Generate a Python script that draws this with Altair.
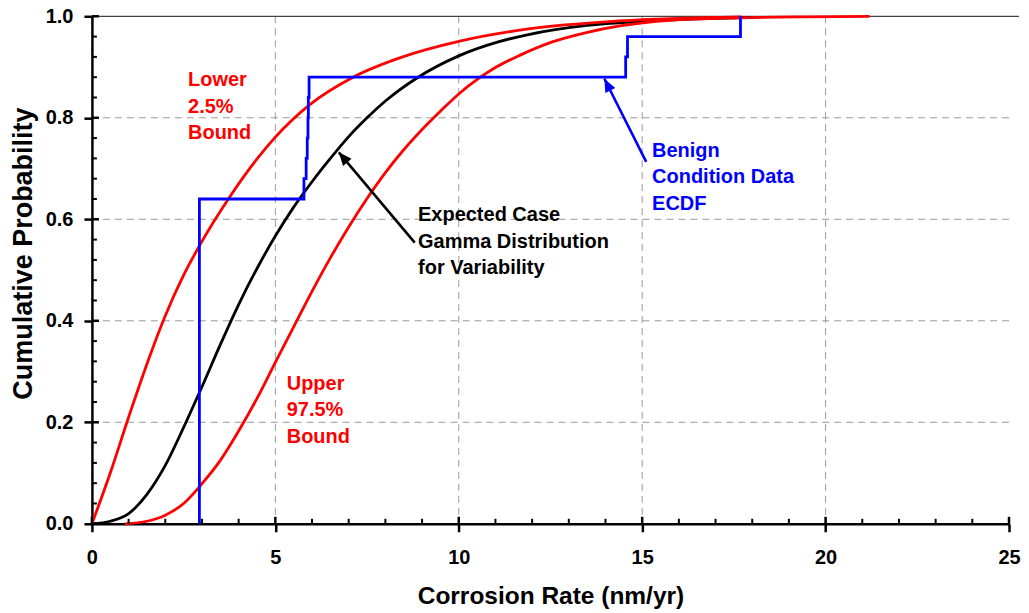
import math
import altair as alt
import pandas as pd

# ---------------- data ----------------
# Expected case gamma distribution (black)
exp_x = [0, 0.5, 1.0, 1.5, 2.0, 2.5, 3.0, 3.5, 4.0, 4.5, 5.0, 5.5, 6.0, 6.5, 7.0, 7.5, 8.0, 8.85, 10.0, 11.1, 11.9, 13.5, 15.0, 16.5, 18.0]
exp_y = [0, 0.005, 0.02, 0.058, 0.115, 0.19, 0.27, 0.353, 0.432, 0.503, 0.567, 0.624, 0.674, 0.72, 0.763, 0.80, 0.833, 0.878, 0.922, 0.950, 0.964, 0.982, 0.990, 0.995, 0.998]

# Lower 2.5% bound (red, left)
low_x = [0, 0.5, 1.0, 1.5, 2.0, 2.5, 2.94, 3.71, 4.49, 5.0, 5.94, 7.12, 8.39, 10.03, 11.9, 14.4, 17.7]
low_y = [0, 0.10, 0.21, 0.315, 0.41, 0.49, 0.549, 0.639, 0.718, 0.762, 0.826, 0.88, 0.918, 0.951, 0.975, 0.991, 0.999]

# Upper 97.5% bound (red, right)
up_x = [0.9, 1.5, 2.0, 2.5, 3.0, 3.5, 4.0, 4.5, 5.0, 5.5, 6.0, 6.5, 7.0, 7.5, 8.0, 8.5, 9.0, 9.5, 10.0, 10.57, 11.0, 11.66, 12.57, 13.48, 14.39, 15.75, 17.66, 19.5, 21.2]
up_y = [0, 0.005, 0.017, 0.040, 0.079, 0.125, 0.183, 0.247, 0.318, 0.388, 0.458, 0.524, 0.585, 0.641, 0.692, 0.737, 0.777, 0.813, 0.847, 0.879, 0.899, 0.923, 0.950, 0.968, 0.981, 0.992, 0.997, 0.999, 1.0]

# Benign condition data (25 observations) -> ECDF
obs = [2.93] * 16 + [5.78, 5.84, 5.87, 5.89, 5.90, 5.92, 14.55, 14.60, 17.68]

# Axis ticks
x_major = [0, 5, 10, 15, 20, 25]
x_minor = [1, 2, 3, 4, 6, 7, 8, 9, 11, 12, 13, 14, 16, 17, 18, 19, 21, 22, 23, 24]
y_major = [0.0, 0.2, 0.4, 0.6, 0.8, 1.0]
y_minor = [0.04, 0.08, 0.12, 0.16, 0.24, 0.28, 0.32, 0.36, 0.44, 0.48, 0.52, 0.56,
           0.64, 0.68, 0.72, 0.76, 0.84, 0.88, 0.92, 0.96]
x_grid = [5, 10, 15, 20]
y_grid = [0.2, 0.4, 0.6, 0.8]

# Annotations
ann_text = [["Lower", "2.5%", "Bound"],
            ["Upper", "97.5%", "Bound"],
            ["Expected Case", "Gamma Distribution", "for Variability"],
            ["Benign", "Condition Data", "ECDF"]]
ann_x = [2.62, 5.31, 8.89, 15.27]
ann_y = [0.862, 0.264, 0.596, 0.723]
ann_color = ["#FF0000", "#FF0000", "#000000", "#0000FF"]

# Arrows (tail -> tip)
arr_x = [8.80, 15.11]
arr_y = [0.554, 0.713]
arr_x2 = [6.73, 13.97]
arr_y2 = [0.732, 0.877]
arr_color = ["#000000", "#0000FF"]

# ---------------- build ----------------
W, H = 918, 508
XD, YD = [0, 25], [0, 1]
FONT = "Liberation Sans"

xs = alt.Scale(domain=XD, nice=False, zero=False)
ys = alt.Scale(domain=YD, nice=False)
XAX = alt.Axis(values=x_major, title="Corrosion Rate (nm/yr)", grid=False, labelFlush=False,
               tickSize=8, labelPadding=16, titlePadding=17, titleFontSize=24.5)
YAX = alt.Axis(values=y_major, format=".1f", title="Cumulative Probability", grid=False, labelFlush=False,
               tickSize=8, labelPadding=11, titlePadding=8, titleFontSize=27, titleY=237)


def X(f):
    return alt.X(f, scale=xs, axis=XAX)


def Y(f):
    return alt.Y(f, scale=ys, axis=YAX)


# ECDF table
n = len(obs)
uniq = sorted(set(obs))
ecdf_x = [uniq[0]]
ecdf_y = [0.0]
for u in uniq:
    ecdf_x.append(u)
    ecdf_y.append(sum(1 for o in obs if o <= u) / n)
ecdf_df = pd.DataFrame({"x": ecdf_x, "y": ecdf_y, "o": range(len(ecdf_x))})

curves = pd.concat([
    pd.DataFrame({"x": exp_x, "y": exp_y, "s": "exp"}),
    pd.DataFrame({"x": low_x, "y": low_y, "s": "low"}),
    pd.DataFrame({"x": up_x, "y": up_y, "s": "up"}),
])

gx = alt.Chart(pd.DataFrame({"x": x_grid})).mark_rule(color="#999999", strokeWidth=1, strokeDash=[7, 5]).encode(
    x=X("x:Q"))
gy = alt.Chart(pd.DataFrame({"y": y_grid})).mark_rule(color="#999999", strokeWidth=1, strokeDash=[7, 5]).encode(
    y=Y("y:Q"))
top = alt.Chart(pd.DataFrame({"y": [1.0]})).mark_rule(color="#444444", strokeWidth=1.2).encode(
    y=Y("y:Q"), x=alt.value(0), x2=alt.value(W + 10))

lines = alt.Chart(curves).mark_line(strokeWidth=2.8, interpolate="monotone").encode(
    x=X("x:Q"), y=Y("y:Q"),
    color=alt.Color("s:N", scale=alt.Scale(domain=["exp", "low", "up"],
                                           range=["#000000", "#FF0000", "#FF0000"]), legend=None),
    detail="s:N",
)

ecdf = alt.Chart(ecdf_df).mark_line(strokeWidth=2.8, color="#0000FF", interpolate="step-after").encode(
    x=X("x:Q"), y=Y("y:Q"), order="o:Q")

# inner parts of ticks
tick_x_major = alt.Chart(pd.DataFrame({"x": x_major})).mark_rule(color="black", strokeWidth=2.5).encode(
    x=X("x:Q"), y=alt.value(H), y2=alt.value(H - 7))
tick_x_minor = alt.Chart(pd.DataFrame({"x": x_minor})).mark_rule(color="black", strokeWidth=2).encode(
    x=X("x:Q"), y=alt.value(H), y2=alt.value(H - 5))
tick_y_major = alt.Chart(pd.DataFrame({"y": y_major})).mark_rule(color="black", strokeWidth=2.5).encode(
    y=Y("y:Q"), x=alt.value(0), x2=alt.value(7))
tick_y_minor = alt.Chart(pd.DataFrame({"y": y_minor})).mark_rule(color="black", strokeWidth=2).encode(
    y=Y("y:Q"), x=alt.value(0), x2=alt.value(5))

# annotations
ann_df = pd.DataFrame({"x": ann_x, "y": ann_y, "t": ann_text, "c": ann_color})
ann = alt.Chart(ann_df).mark_text(align="left", baseline="alphabetic", font=FONT, fontWeight="bold",
                                  fontSize=20, lineHeight=26.5).encode(
    x=X("x:Q"), y=Y("y:Q"), text="t", color=alt.Color("c:N", scale=None))

# arrows
angles = []
for i in range(len(arr_x)):
    dx = (arr_x2[i] - arr_x[i]) * W / (XD[1] - XD[0])
    dy = -(arr_y2[i] - arr_y[i]) * H / (YD[1] - YD[0])
    angles.append(math.degrees(math.atan2(dx, -dy)) % 360)
arr_df = pd.DataFrame({"x": arr_x, "y": arr_y, "x2": arr_x2, "y2": arr_y2, "c": arr_color, "a": angles})
arr_line = alt.Chart(arr_df).mark_rule(strokeWidth=2.6).encode(
    x=X("x:Q"), y=Y("y:Q"), x2="x2:Q", y2="y2:Q",
    color=alt.Color("c:N", scale=None))
arr_head = alt.Chart(arr_df).mark_point(shape="M0,0L0.42,1L-0.42,1Z", filled=True, opacity=1,
                                        size=700, strokeWidth=0).encode(
    x=X("x2:Q"), y=Y("y2:Q"),
    angle=alt.Angle("a:Q", scale=None), color=alt.Color("c:N", scale=None))

chart = alt.layer(gx, gy, top, lines, ecdf, tick_x_major, tick_x_minor, tick_y_major, tick_y_minor,
                  arr_line, arr_head, ann).properties(
    width=W, height=H,
    autosize=alt.AutoSizeParams(type="none"),
    padding={"left": 84, "top": 8, "right": 12, "bottom": 87},
).configure_view(stroke=None).configure_axis(
    labelFont=FONT, labelFontWeight="bold", labelFontSize=20, labelColor="black",
    titleFont=FONT, titleFontWeight="bold", titleColor="black",
    domainColor="black", domainWidth=2.5, tickColor="black", tickWidth=2.5,
)

chart.save("out.html", embed_options={"renderer": "svg", "actions": False})
